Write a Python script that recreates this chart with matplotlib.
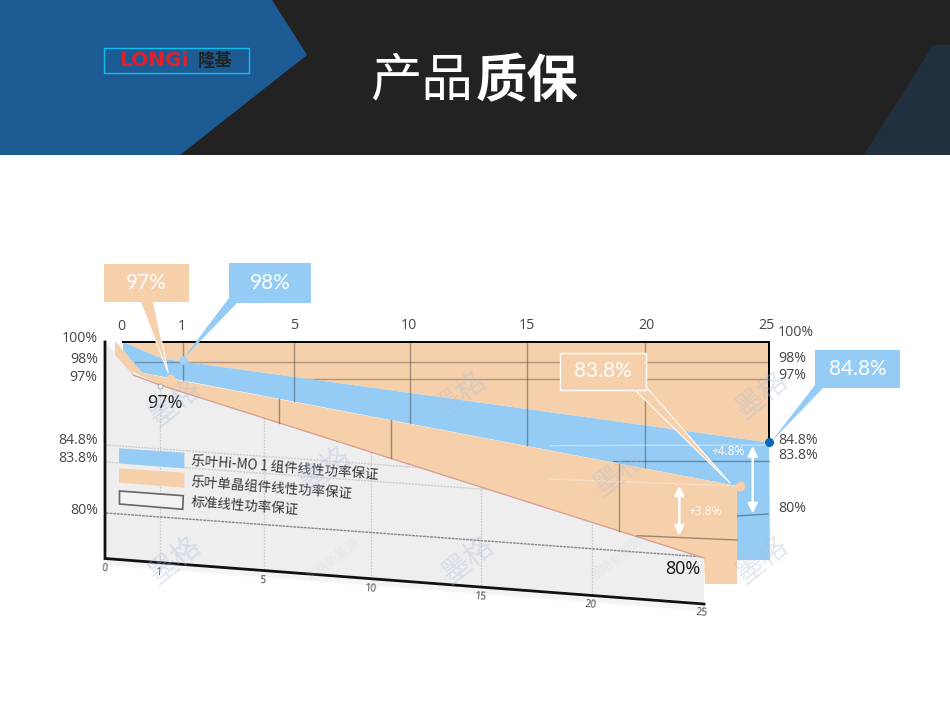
import numpy as np
import matplotlib
matplotlib.use("Agg")
import matplotlib.pyplot as plt
from matplotlib.patches import Polygon, Rectangle
from matplotlib.transforms import Transform

plt.rcParams['font.family'] = ['Noto Sans CJK SC', 'DejaVu Sans']

# ---- data ----
hi_mo_years = [0, 0.65, 1, 25]
hi_mo_pct = [100, 98.3, 98, 84.8]
mono_years = [0, 0.5, 1, 25]
mono_pct = [100, 97.4, 97, 83.8]
std_years = [0, 0.5, 1, 25]
std_pct = [100, 97.8, 97, 80]

tick_years = [0, 1, 5, 10, 15, 20, 25]
left_pct_labels = ['100%', '98%', '97%', '84.8%', '83.8%', '80%']
right_pct_labels = ['100%', '98%', '97%', '84.8%', '83.8%', '80%']
legend_labels = ['乐叶Hi-MO 1 组件线性功率保证', '乐叶单晶组件线性功率保证', '标准线性功率保证']
title_light = '产品'
title_bold = '质保'
callouts = ['97%', '98%', '83.8%', '84.8%']
gain_labels = ['+4.8%', '+3.8%']
watermark = '墨格'
watermark_small = '墨格新能源'

# ---- colours ----
PEACH = '#f5d0aa'
BLUE = '#95ccf5'
GRAY = '#eeeeee'
TXT = '#444444'
NUM_FONT = ['Open Sans', 'Noto Sans CJK SC']
LIGHT_FONT = ['Lato', 'Noto Sans CJK SC']


class Plane(Transform):
    """Piecewise-linear (year, pct) scale of one plane of the pseudo-3D chart."""
    input_dims = output_dims = 2

    def __init__(self, xs, ys_pct, ys):
        super().__init__()
        self.xs, self.pct, self.ys = xs, np.array(ys_pct), np.array(ys)

    def transform_non_affine(self, v):
        v = np.asarray(v, float)
        x = np.interp(v[:, 0], tick_years, self.xs)
        y = np.interp(v[:, 1], self.pct[::-1], self.ys[::-1])
        return np.column_stack([x, y])


pct_levels = [100, 98, 97, 84.8, 83.8, 80]
wall = Plane([123, 182.5, 294, 410, 527, 645, 769], pct_levels, [342, 361.5, 378.5, 442.5, 461, 515])
front = Plane([115, 169.5, 279, 391, 505, 619, 737], pct_levels, [341, 364, 378.5, 478, 486, 520])
floor = Plane([105, 160, 264, 371, 481, 591.5, 704], pct_levels, [342, 368, 385, 470, 487, 558])

fig = plt.figure(figsize=(9.5, 7.14), dpi=100)
ax = fig.add_axes([0, 0, 1, 1])
ax.set_xlim(0, 950)
ax.set_ylim(714, 0)
ax.axis('off')


def poly(pts, fc, z, ec='none', lw=0, alpha=None):
    ax.add_patch(Polygon(pts, closed=True, fc=fc, ec=ec, lw=lw, zorder=z, alpha=alpha))


def pts(tr, yrs, pct):
    return tr.transform(np.column_stack([yrs, pct]))


# ---- header ----
ax.add_patch(Rectangle((0, 0), 950, 155, fc='#222222', ec='none', zorder=1))
poly([(0, 0), (272, 0), (307, 55), (180, 155), (0, 155)], '#1d5b94', 2)
poly([(933, 45), (950, 45), (950, 155), (864, 155)], '#21303f', 2)
ax.add_patch(Rectangle((103.5, 47.5), 145, 25, fc='none', ec='#12bdf0', lw=1, zorder=3))
ax.text(154, 60.5, 'LONGi', color='#e0202a', fontsize=14.5, fontweight='bold',
        family='DejaVu Sans', ha='center', va='center', zorder=4)
ax.text(215, 60.5, '隆基', color='#222222', fontsize=12.5, fontweight='bold',
        ha='center', va='center', zorder=4)
ax.text(370, 81, title_light, color='white', fontsize=37, ha='left', va='center', zorder=4)
ax.text(476, 81, title_bold, color='white', fontsize=37, fontweight='bold', ha='left', va='center', zorder=4)

# ---- floor (standard warranty) ----
s = pts(floor, std_years, std_pct)
poly(list(s) + [(704, 602), (104, 558)], GRAY, 5)
for i in range(4):
    ax.plot([104, 704], [560 + i * 1.5, 606 + i * 1.5], color='black', alpha=0.025, lw=2, zorder=4)
for yr in tick_years[1:6]:
    xb = floor.transform(np.array([[yr, 100]]))[0, 0]
    ax.plot([xb, xb], [380, 558 + (xb - 104) * 0.0767], color='#cccccc', lw=0.9, ls=(0, (1.5, 1)), zorder=6)
for y0 in (445, 462):
    ax.plot([106, 704], [y0, y0 + 598 * 0.072], color='#cccccc', lw=1, ls=(0, (1.5, 0.8)), zorder=6)
ax.plot([106, 704], [513, 557], color='#888888', lw=1, ls=(0, (2, 0.6)), zorder=6)
ax.plot([105, 105, 704], [342, 558.5, 604], color='#111111', lw=2, zorder=7, solid_joinstyle='miter')

# ---- back wall ----
b = pts(wall, hi_mo_years, hi_mo_pct)
poly([(123, 342), (769, 342)] + list(b[::-1]), PEACH, 8)
for p in [98, 97]:
    y = wall.transform(np.array([[0, p]]))[0, 1]
    ax.plot([135 if p == 98 else 300, 769], [y, y], color='#6a5a4a', alpha=0.5, lw=1, zorder=9)

# ---- Hi-MO 1 band ----
m = pts(front, mono_years, mono_pct)
poly(list(b) + [(770, 560), (737, 560), m[-1]] + [m[1], (135, 365), (123, 350)], BLUE, 10)
ax.plot([135, 182], [362, 362], color='#4a5a6a', alpha=0.5, lw=1, zorder=11)
for yr in tick_years[1:6]:
    x = wall.transform(np.array([[yr, 100]]))[0, 0]
    ax.plot([x, x], [342, np.interp(x, m[:, 0], m[:, 1])], color='#3a3a3a', alpha=0.45, lw=1, zorder=11)
ax.plot([613, 769], [461, 461], color='#3a4a5a', alpha=0.55, lw=1, zorder=11)
ax.plot([737, 768], [516, 514], color='#3a4a5a', alpha=0.55, lw=1, zorder=11)
ax.plot([550, 769], [445.7, 445], color='white', alpha=0.4, lw=1, zorder=11)
ax.plot([123, 769, 769], [342, 342, 442], color='black', lw=1.4, zorder=12, solid_joinstyle='miter')

# ---- mono band ----
f = pts(floor, std_years, std_pct)
poly([(115, 341)] + list(m[1:]) + [(737, 584), (705, 584), (704, 558)] + list(f[:0:-1])[1:] + [(133, 375), (115, 355)],
     PEACH, 13)
ax.plot([133, 160, 704], [375, 385, 558], color='#d99a90', lw=0.9, zorder=14)
for yr in tick_years[2:6]:
    xt = front.transform(np.array([[yr, 100]]))[0, 0]
    yt = np.interp(xt, [169.5, 737], [378.5, 486])
    yb = np.interp(xt, [160, 704], [385, 558])
    if yr != 15:
        ax.plot([xt, xt], [yt, yb], color='#5a4a3a', alpha=0.55, lw=1, zorder=14)
ax.plot([637, 737], [535.7, 540], color='#5a4a3a', alpha=0.55, lw=1, zorder=14)
ax.plot([550, 737], [479, 486], color='white', alpha=0.3, lw=1, zorder=14)

# ---- gain arrows ----
for x, y0, y1 in [(752.7, 446, 513.5), (679.3, 485.5, 535.5)]:
    ax.annotate('', xy=(x, y0), xytext=(x, y1), zorder=15,
                arrowprops=dict(arrowstyle='<|-|>', color='white', lw=1.8, shrinkA=0, shrinkB=0, mutation_scale=14))
ax.text(727.7, 451.5, gain_labels[0], color='white', family=NUM_FONT, fontsize=8.6, ha='center', va='center', zorder=15)
ax.text(704.7, 511.5, gain_labels[1], color='#fff4e6', family=NUM_FONT, fontsize=8.6, ha='center', va='center', zorder=15)

# ---- callouts ----
def callout(box, tail, fc, label, ec='none', lw=0, tail_ec='none'):
    x0, y0, x1, y1 = box
    poly(tail, fc, 16, ec=tail_ec, lw=0.8)
    ax.add_patch(Rectangle((x0, y0), x1 - x0, y1 - y0, fc=fc, ec=ec, lw=lw, zorder=17))
    ax.text((x0 + x1) / 2, (y0 + y1) / 2, label, color='white', family=LIGHT_FONT, fontweight='normal',
            fontsize=15, ha='center', va='center', zorder=18)


callout((104, 264, 189, 301.7), [(140, 301), (153.3, 301), (168.3, 373)], PEACH, callouts[0], tail_ec='white')
callout((229, 263, 311, 302.6), [(229, 298), (238, 302), (183, 359)], BLUE, callouts[1])
callout((559.5, 352.5, 646, 390), [(634, 389), (646, 387), (730, 483)], PEACH, callouts[2], ec='white', lw=1, tail_ec='white')
callout((815, 350, 900, 387.7), [(815, 385), (824, 387), (771, 442)], BLUE, callouts[3])

# ---- dots ----
ax.plot([769], [442], 'o', ms=5.5, color='#0a68b4', zorder=19)
ax.plot([740], [486], 'o', ms=6, color=PEACH, zorder=19)
ax.plot([183], [360], 'o', ms=5, color='#a5d3f5', zorder=19)
ax.plot([169.5], [378.5], 'o', ms=6, color=PEACH, zorder=19)
ax.plot([160], [385.5], 'o', ms=3.5, mfc='white', mec='#999999', mew=0.6, zorder=19)

# ---- tick labels ----
for yr, (x, y) in zip(tick_years, [(121, 326.5), (182, 326.5), (294, 325.5), (409, 325.5), (527, 325.5), (646, 325.5), (766, 325.5)]):
    ax.text(x, y, str(yr), color=TXT, family=NUM_FONT, fontsize=10.2, ha='center', va='center', zorder=20)
for lab, (x, y) in zip(left_pct_labels, [(80, 338.5), (84, 359.5), (83, 377.5), (78, 440.5), (78, 458.5), (84, 510.5)]):
    ax.text(x, y, lab, color=TXT, family=NUM_FONT, fontsize=10.2, ha='center', va='center', zorder=20)
for lab, (x, y) in zip(right_pct_labels, [(796, 332.5), (792, 358.5), (792, 375.5), (798, 440.5), (798, 455.5), (792, 508.5)]):
    ax.text(x, y, lab, color=TXT, family=NUM_FONT, fontsize=10.2, ha='center', va='center', zorder=20)
for yr, (x, y) in zip(tick_years, [(105, 569), (158, 573), (262, 581), (370, 589), (480, 597), (591, 605), (702, 613)]):
    ax.text(x, y, str(yr), color=TXT, family=NUM_FONT, fontsize=7.5, rotation=-4, ha='center', va='center', zorder=20)
ax.text(165, 403, '97%', color='#111111', family=NUM_FONT, fontsize=13, ha='center', va='center', zorder=20)
ax.text(683, 569.5, '80%', color='#111111', family=NUM_FONT, fontsize=13, ha='center', va='center', zorder=20)

# ---- legend ----
poly([(119, 448.3), (184.3, 452.7), (184.3, 468.3), (119, 463.3)], BLUE, 21)
poly([(119, 468.3), (184.3, 472.7), (184.3, 487.7), (119, 482.7)], PEACH, 21)
poly([(119.5, 491), (183.3, 495.7), (182.7, 509.3), (119.5, 504)], '#f2f2f2', 21, ec='#666666', lw=1.2)
for lab, (x, y) in zip(legend_labels, [(191, 461), (191, 481.5), (191, 502)]):
    ax.text(x, y, lab, color='#333333', fontsize=9.7, rotation=-4.2, rotation_mode='anchor',
            ha='left', va='center', zorder=22)

# ---- watermarks ----
clip = Rectangle((0, 155), 774, 500, transform=ax.transData)
for x, y in [(175, 403), (175, 560), (325, 470), (468, 560), (460, 395), (620, 472), (762, 395), (762, 560)]:
    t = ax.text(x, y, watermark, color='#aabfdc', alpha=0.35, fontsize=21, rotation=38,
                ha='center', va='center', zorder=23)
    t.set_clip_path(clip)
for x, y in [(333, 560), (617, 558)]:
    ax.text(x, y, watermark_small, color='#aabfdc', alpha=0.18, fontsize=9, rotation=38,
            ha='center', va='center', zorder=23)

fig.savefig('out.png', dpi=100, facecolor='white')
